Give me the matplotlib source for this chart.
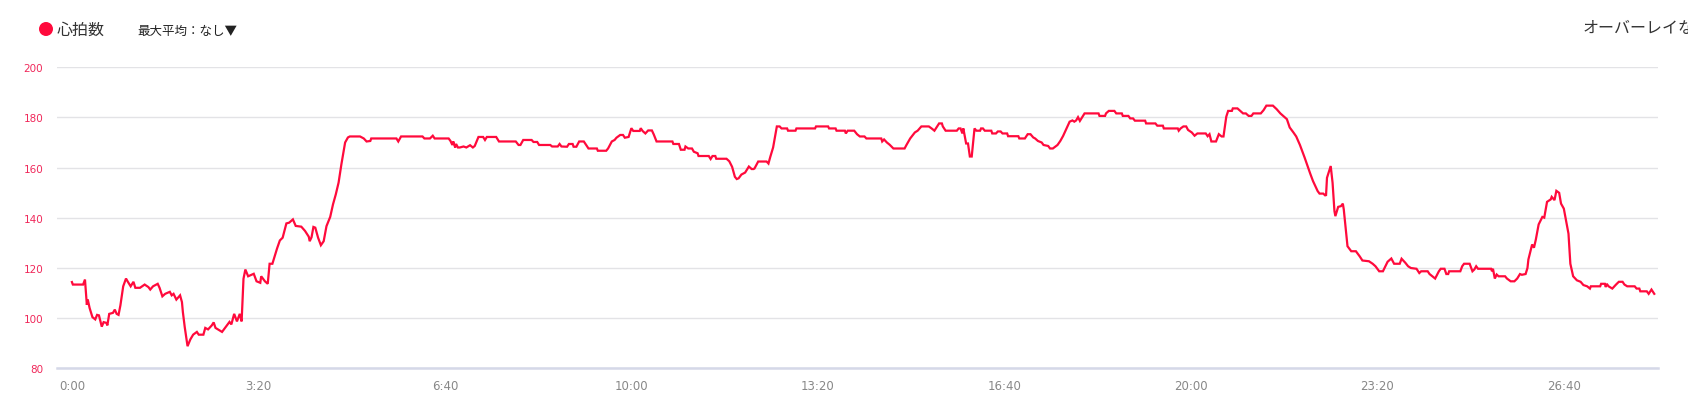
import matplotlib
matplotlib.use("Agg")
import matplotlib.pyplot as plt
from matplotlib.patches import Ellipse
from matplotlib import font_manager

# ---- data (seconds, bpm) ----
time_s = [0, 1, 12, 14, 16, 17, 19, 22, 25, 27, 29, 32, 34, 37, 38, 40, 44, 46, 48, 50, 52, 55, 58, 60, 63, 66, 68,
          73, 78, 82, 84, 87, 92, 94, 97, 100, 105, 107, 109, 112, 116, 118, 119, 121, 124, 127, 130, 134, 136, 141,
          143, 146, 150, 152, 154, 161, 165, 169, 171, 174, 177, 180, 182, 184, 186, 189, 195, 198, 202, 203, 207,
          210, 212, 215, 220, 223, 226, 230, 233, 237, 240, 246, 250, 254, 255, 257, 259, 261, 264, 267, 270, 273,
          277, 280, 283, 286, 289, 293, 296, 298, 309, 313, 316, 320, 321, 348, 350, 353, 376, 378, 384, 387, 389,
          404, 406, 408, 409, 411, 412, 414, 416, 420, 423, 427, 430, 432, 436, 441, 443, 445, 455, 458, 476, 479,
          481, 484, 493, 495, 499, 501, 513, 515, 521, 523, 525, 531, 533, 537, 538, 541, 544, 549, 554, 563, 564,
          573, 575, 579, 582, 584, 588, 591, 593, 597, 600, 602, 609, 610, 612, 615, 618, 622, 624, 627, 644, 645,
          651, 653, 657, 658, 661, 665, 667, 671, 672, 683, 685, 687, 690, 691, 702, 705, 708, 711, 713, 715, 718,
          722, 726, 729, 731, 732, 736, 739, 745, 747, 749, 752, 756, 759, 761, 767, 768, 776, 777, 797, 798, 811,
          812, 819, 820, 829, 830, 832, 839, 842, 845, 849, 850, 852, 868, 869, 871, 874, 877, 881, 893, 895, 899,
          904, 907, 911, 919, 922, 925, 930, 933, 934, 937, 949, 951, 953, 955, 956, 959, 961, 963, 965, 968, 970,
          974, 975, 977, 979, 986, 987, 991, 993, 996, 998, 1003, 1004, 1015, 1016, 1022, 1025, 1028, 1031, 1033,
          1036, 1040, 1042, 1047, 1049, 1052, 1057, 1060, 1063, 1067, 1070, 1073, 1075, 1077, 1079, 1081, 1086,
          1101, 1102, 1108, 1109, 1112, 1118, 1120, 1126, 1127, 1133, 1135, 1138, 1140, 1151, 1152, 1162, 1164,
          1170, 1171, 1186, 1187, 1189, 1192, 1195, 1197, 1201, 1204, 1207, 1216, 1218, 1220, 1222, 1227, 1230,
          1233, 1235, 1238, 1240, 1244, 1245, 1250, 1253, 1256, 1259, 1262, 1265, 1267, 1275, 1278, 1281, 1288,
          1292, 1296, 1299, 1303, 1306, 1310, 1313, 1317, 1322, 1328, 1331, 1336, 1338, 1342, 1344, 1345, 1346,
          1350, 1352, 1354, 1355, 1358, 1361, 1363, 1364, 1368, 1372, 1377, 1381, 1384, 1391, 1395, 1398, 1402,
          1406, 1411, 1415, 1418, 1424, 1426, 1430, 1433, 1436, 1442, 1445, 1447, 1454, 1456, 1459, 1462, 1466,
          1468, 1472, 1474, 1476, 1477, 1489, 1491, 1493, 1499, 1502, 1504, 1506, 1508, 1522, 1523, 1524, 1526,
          1528, 1530, 1537, 1539, 1543, 1547, 1550, 1553, 1555, 1559, 1561, 1562, 1566, 1568, 1570, 1573, 1577,
          1579, 1582, 1586, 1587, 1590, 1592, 1595, 1597, 1600, 1604, 1605, 1607, 1610, 1614, 1618, 1621, 1625,
          1628, 1629, 1639, 1640, 1644, 1645, 1646, 1648, 1652, 1656, 1659, 1663, 1665, 1668, 1676, 1678, 1681,
          1682, 1689, 1691, 1694, 1697]
bpm = [114.3, 113.3, 113.3, 115.3, 105.2, 107.3, 103.9, 100.3, 99.4, 101.2, 101.0, 96.5, 98.3, 98.0, 97.0, 101.6,
       102.0, 103.3, 101.6, 101.2, 105.0, 112.6, 115.7, 114.4, 112.6, 114.4, 112.0, 112.0, 113.3, 112.3, 111.3,
       112.6, 113.6, 112.0, 108.6, 109.6, 110.4, 109.0, 109.6, 107.3, 109.0, 106.3, 102.3, 96.3, 88.7, 91.4, 93.3,
       94.4, 93.3, 93.3, 96.0, 95.4, 97.0, 98.2, 96.0, 94.4, 96.4, 98.4, 97.4, 101.6, 98.6, 101.6, 98.6, 115.6,
       119.3, 116.6, 117.6, 114.6, 114.0, 116.6, 114.6, 113.6, 121.6, 121.6, 127.7, 130.9, 132.0, 137.7, 138.0,
       139.3, 136.7, 136.4, 134.7, 132.4, 130.6, 132.2, 136.3, 136.0, 132.0, 129.0, 130.6, 136.6, 140.3, 145.3,
       149.3, 154.0, 161.3, 170.0, 172.0, 172.4, 172.4, 171.6, 170.4, 170.6, 171.6, 171.6, 170.4, 172.4, 172.4,
       171.6, 171.6, 172.7, 171.6, 171.6, 170.6, 169.0, 170.4, 168.0, 169.4, 168.0, 168.0, 168.4, 168.0, 168.9,
       168.0, 168.6, 172.2, 172.2, 171.0, 172.2, 172.2, 170.4, 170.4, 169.0, 169.0, 171.0, 171.0, 170.2, 170.2,
       169.0, 169.0, 168.4, 168.4, 169.4, 168.4, 168.3, 169.4, 169.4, 168.3, 168.3, 170.4, 170.4, 167.6, 167.6,
       166.7, 166.7, 167.6, 170.4, 171.0, 171.9, 173.0, 173.0, 171.9, 172.2, 175.7, 174.6, 174.6, 175.7, 174.6,
       173.6, 174.8, 174.8, 173.2, 170.4, 170.4, 169.4, 169.4, 167.1, 167.1, 168.4, 167.6, 167.6, 166.3, 165.7,
       164.6, 164.6, 163.4, 164.6, 164.6, 163.5, 163.5, 162.5, 160.3, 156.3, 155.4, 155.7, 157.2, 158.0, 160.4,
       159.4, 159.4, 159.6, 162.4, 162.4, 162.4, 161.6, 164.3, 168.0, 176.4, 176.4, 175.6, 175.6, 174.7, 174.7,
       175.6, 175.6, 176.4, 176.4, 175.6, 175.6, 174.7, 174.7, 173.6, 174.7, 174.7, 173.3, 172.4, 172.4, 172.4,
       171.6, 171.6, 170.4, 171.2, 170.0, 169.1, 167.6, 167.6, 169.0, 171.6, 174.0, 174.7, 176.4, 176.4, 175.6,
       174.7, 177.6, 177.6, 176.4, 174.7, 174.7, 175.6, 175.6, 173.6, 175.6, 169.6, 169.6, 164.4, 164.4, 175.6,
       174.7, 174.7, 175.6, 175.6, 174.7, 174.7, 173.6, 173.6, 174.4, 174.4, 173.6, 173.6, 172.5, 172.5, 171.6,
       171.6, 173.3, 173.3, 172.0, 171.6, 170.6, 170.0, 169.0, 168.6, 167.6, 167.6, 169.0, 170.6, 172.6, 175.9,
       178.3, 178.8, 178.3, 178.8, 180.1, 178.6, 181.6, 181.6, 180.6, 180.6, 181.6, 182.6, 182.6, 181.6, 181.6,
       180.6, 180.6, 179.6, 179.6, 178.7, 178.7, 177.6, 177.6, 176.7, 176.7, 175.6, 175.6, 174.7, 175.6, 176.4,
       176.4, 175.0, 174.0, 172.7, 173.6, 173.6, 172.5, 173.3, 170.4, 170.4, 173.3, 172.4, 172.4, 180.3, 182.6,
       182.6, 183.6, 183.6, 182.6, 181.6, 181.6, 180.6, 180.6, 181.6, 181.6, 182.9, 184.7, 184.7, 183.3, 181.6,
       180.6, 179.3, 176.0, 174.0, 172.4, 169.0, 164.0, 157.6, 154.6, 150.6, 149.6, 149.6, 148.9, 149.0, 155.9,
       160.6, 153.9, 142.6, 140.6, 144.3, 144.6, 145.6, 143.3, 128.6, 126.6, 126.6, 124.6, 122.9, 122.6, 121.6,
       120.6, 118.6, 118.6, 122.4, 123.7, 121.6, 121.6, 123.6, 122.0, 120.6, 119.9, 119.6, 117.9, 118.6, 118.6,
       117.5, 116.6, 115.7, 118.6, 119.6, 119.6, 117.5, 117.5, 118.6, 118.6, 120.6, 121.6, 121.6, 118.6, 119.3,
       120.6, 119.6, 119.6, 118.6, 119.6, 115.7, 117.3, 116.6, 116.6, 115.7, 114.6, 114.6, 115.7, 117.5, 117.2,
       117.5, 119.9, 123.3, 129.3, 128.0, 131.3, 137.3, 140.3, 140.0, 146.3, 147.3, 148.3, 147.0, 150.7, 149.9,
       145.6, 143.6, 135.6, 133.6, 121.6, 116.6, 115.0, 114.4, 113.1, 112.6, 111.7, 112.6, 112.6, 113.6, 113.6,
       112.3, 113.6, 112.6, 111.7, 113.3, 114.4, 114.4, 113.3, 112.6, 112.6, 111.7, 111.7, 110.6, 110.6, 109.6,
       111.3, 109.6]

x_ticks = [0, 200, 400, 600, 800, 1000, 1200, 1400, 1600]
x_tick_labels = ["0:00", "3:20", "6:40", "10:00", "13:20", "16:40", "20:00", "23:20", "26:40"]
y_ticks = [80, 100, 120, 140, 160, 180, 200]

series_label = "心拍数"
menu_label = "最大平均：なし▼"
overlay_label = "オーバーレイなし"

# ---- fonts ----
def has_font(name):
    try:
        font_manager.findfont(name, fallback_to_default=False)
        return True
    except Exception:
        return False

narrow = "Liberation Sans Narrow" if has_font("Liberation Sans Narrow") else "DejaVu Sans"
cjk = ["Noto Sans CJK JP", "DejaVu Sans"]

RED = "#ff0a3c"
W, H = 1688, 406
fig = plt.figure(figsize=(W / 100, H / 100), dpi=100)
fig.patch.set_facecolor("white")

left, right, bottom_px, top_px = 57, 1658, 369, 68.3
ax = fig.add_axes([left / W, 1 - bottom_px / H, (right - left) / W, (bottom_px - top_px) / H])

ax.plot(time_s, bpm, color=RED, lw=1.6, solid_joinstyle="miter", zorder=3)

ax.set_xlim(-16, 1701)
ax.set_ylim(80, 200)
ax.set_yticks(y_ticks)
ax.set_yticklabels([str(v) for v in y_ticks], color="#f0285a", fontsize=7.5, fontfamily=narrow)
ax.set_xticks(x_ticks)
ax.set_xticklabels(x_tick_labels, color="#888888", fontsize=8.5, fontfamily=narrow)
ax.tick_params(axis="y", length=0, pad=10)
ax.tick_params(axis="x", length=0, pad=8)
ax.grid(axis="y", color="#e3e3e6", lw=1.0, zorder=0)
ax.grid(axis="x", visible=False)
for s in ["top", "right", "left"]:
    ax.spines[s].set_visible(False)
ax.spines["bottom"].set_color("#d5d8e8")
ax.spines["bottom"].set_linewidth(1.8)
ax.set_facecolor("white")

# ---- header ----
fig.add_artist(Ellipse((46 / W, 1 - 30 / H), 14 / W, 14 / H, transform=fig.transFigure,
                       facecolor=RED, edgecolor="none"))
fig.text(57 / W, 1 - 30 / H, series_label, fontsize=11.5, family=cjk, color="#333333",
         ha="left", va="center")
fig.text(137 / W, 1 - 31 / H, menu_label, fontsize=9, family=cjk, color="#222222",
         ha="left", va="center")
fig.text(1583 / W, 1 - 28 / H, overlay_label, fontsize=11.5, family=cjk, color="#333333",
         ha="left", va="center")

fig.savefig("out.png", dpi=100, facecolor="white")
